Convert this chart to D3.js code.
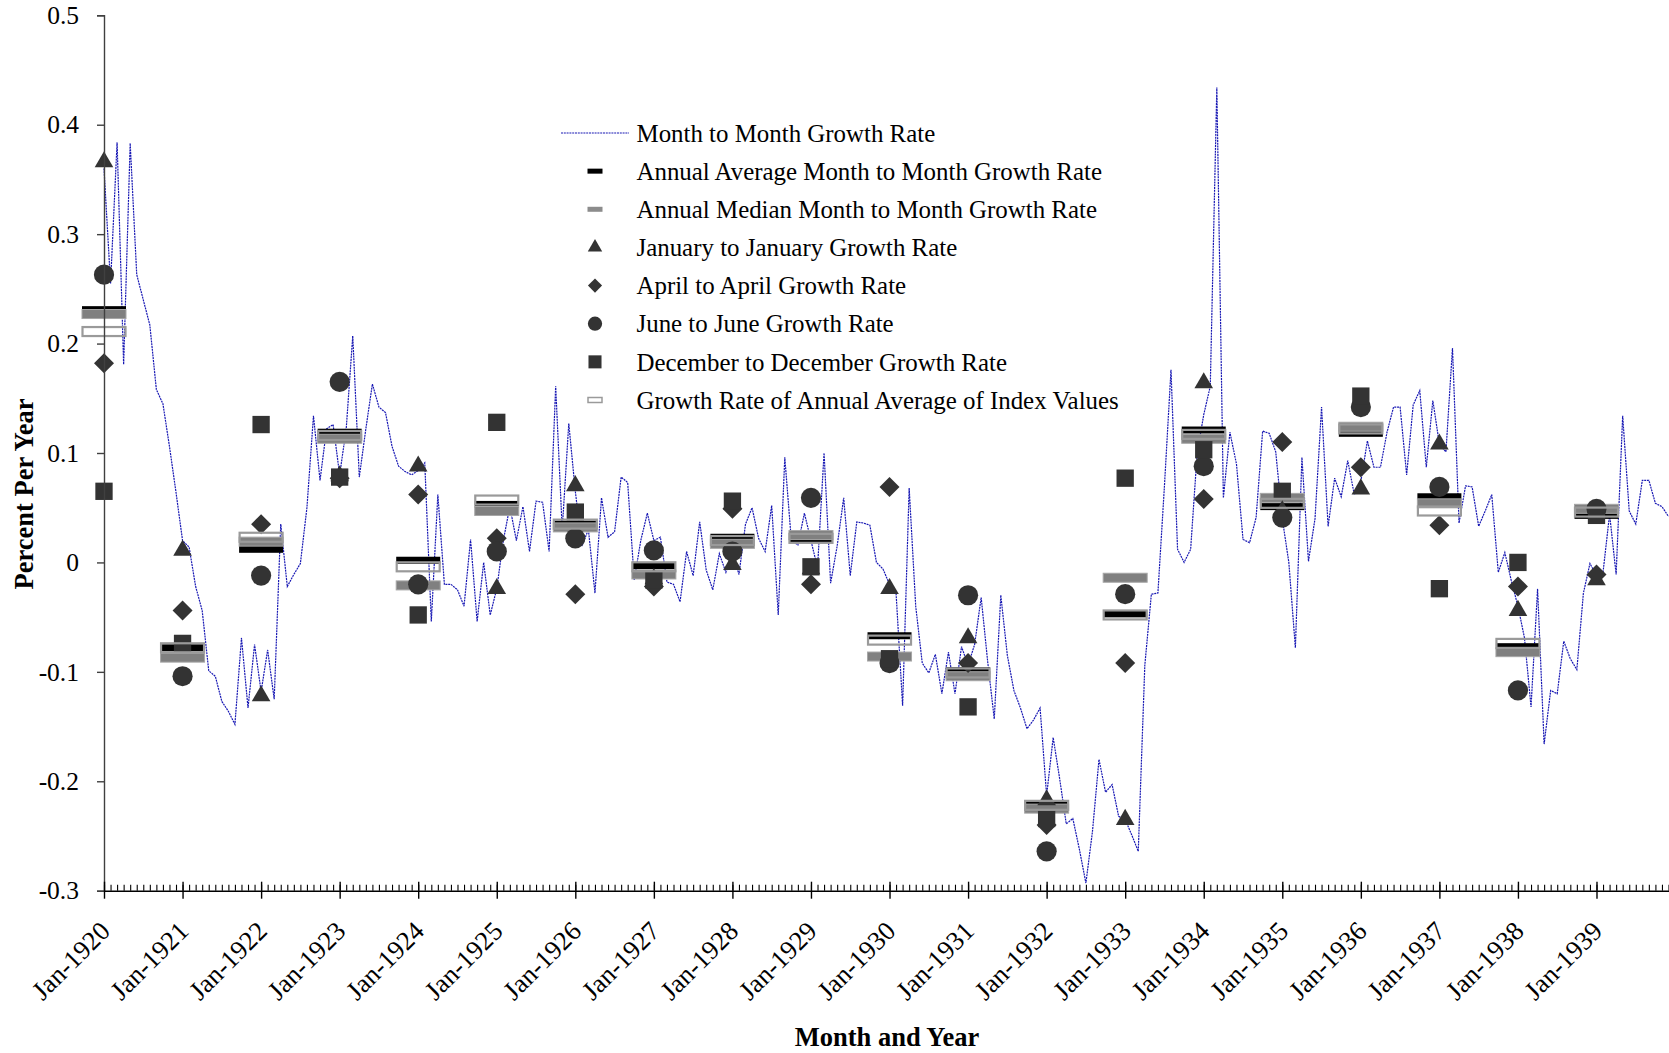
<!DOCTYPE html>
<html><head><meta charset="utf-8">
<script src="https://cdn.jsdelivr.net/npm/d3@7"></script>
<style>
html,body{margin:0;padding:0;background:#fff;}
svg{display:block;font-family:"Liberation Serif","Times New Roman",serif;}
</style>
</head><body>
<svg id="chart" width="1669" height="1053"></svg>
<script>
// ---------------- DATA ----------------
const yearLabels = ["Jan-1920","Jan-1921","Jan-1922","Jan-1923","Jan-1924","Jan-1925","Jan-1926","Jan-1927","Jan-1928","Jan-1929",
                    "Jan-1930","Jan-1931","Jan-1932","Jan-1933","Jan-1934","Jan-1935","Jan-1936","Jan-1937","Jan-1938","Jan-1939"];
const yTickValues = [0.5,0.4,0.3,0.2,0.1,0,-0.1,-0.2,-0.3];
const yTickLabels = ["0.5","0.4","0.3","0.2","0.1","0","-0.1","-0.2","-0.3"];

// Month to month growth rate, Jan-1920 .. Dec-1939 (12 per row)
const monthlyRate = [
  0.360, 0.255, 0.384, 0.181, 0.383, 0.263, 0.240, 0.217, 0.158, 0.145, 0.106, 0.064,
  0.020, 0.014,-0.022,-0.044,-0.099,-0.104,-0.127,-0.136,-0.148,-0.069,-0.133,-0.075,
 -0.118,-0.080,-0.125, 0.035,-0.022,-0.011,-0.001, 0.050, 0.134, 0.075, 0.122, 0.126,
  0.080, 0.122, 0.207, 0.078, 0.122, 0.163, 0.142, 0.137, 0.106, 0.088, 0.083, 0.080,
  0.084, 0.091,-0.054, 0.062,-0.020,-0.020,-0.025,-0.040, 0.021,-0.054, 0.000,-0.048,
 -0.024, 0.020, 0.051, 0.020, 0.051, 0.010, 0.056, 0.055, 0.010, 0.161, 0.030, 0.127,
  0.065, 0.015, 0.030,-0.028, 0.059, 0.023, 0.028, 0.078, 0.073,-0.016, 0.020, 0.045,
  0.020, 0.023,-0.018,-0.020,-0.036, 0.010,-0.012, 0.037,-0.007,-0.025, 0.008,-0.009,
  0.010,-0.011, 0.035, 0.050, 0.022, 0.010, 0.052,-0.048, 0.096, 0.020, 0.016, 0.045,
  0.020,-0.005, 0.100,-0.019, 0.015, 0.059,-0.012, 0.037, 0.036, 0.034, 0.000,-0.006,
 -0.020,-0.028,-0.131, 0.068,-0.040,-0.092,-0.101,-0.084,-0.120,-0.082,-0.120,-0.077,
 -0.094,-0.075,-0.032,-0.091,-0.143,-0.030,-0.085,-0.117,-0.133,-0.152,-0.144,-0.133,
 -0.213,-0.160,-0.198,-0.239,-0.234,-0.262,-0.293,-0.246,-0.180,-0.210,-0.203,-0.232,
 -0.235,-0.249,-0.264,-0.094,-0.029,-0.028, 0.070, 0.176, 0.012, 0.000, 0.012, 0.100,
  0.135, 0.161, 0.434, 0.059, 0.119, 0.090, 0.021, 0.018, 0.041, 0.120, 0.118, 0.101,
  0.040, 0.000,-0.078, 0.096, 0.001, 0.040, 0.142, 0.033, 0.077, 0.060, 0.093, 0.062,
  0.074, 0.111, 0.087, 0.087, 0.119, 0.142, 0.142, 0.080, 0.144, 0.157, 0.087, 0.148,
  0.108, 0.101, 0.196, 0.036, 0.070, 0.069, 0.033, 0.047, 0.062,-0.009, 0.009,-0.017,
 -0.040,-0.069,-0.132,-0.024,-0.166,-0.117,-0.120,-0.072,-0.088,-0.098,-0.028,-0.001,
 -0.012,-0.009, 0.044,-0.011, 0.134, 0.047, 0.035, 0.075, 0.075, 0.054, 0.051, 0.042
];

// Annual series, one value per year 1920..1939 (plotted at January)
const annualAverageRate = [0.231,-0.078,0.012,0.119,0.002,0.053,0.035,-0.003,0.023,0.021,-0.067,-0.099,-0.221,-0.047,0.121,0.051,0.118,0.060,-0.077,0.043];
const annualMedianRate  = [0.227,-0.087,0.019,0.113,-0.021,0.047,0.032,-0.011,0.017,0.025,-0.086,-0.104,-0.225,-0.014,0.113,0.059,0.124,0.054,-0.082,0.049];
const janToJanRate      = [0.366,0.011,-0.122,0.079,0.088,-0.024,0.070,-0.015,-0.002,-0.006,-0.024,-0.069,-0.217,-0.235,0.164,0.047,0.067,0.108,-0.044,-0.016];
const aprToAprRate      = [0.182,-0.044,0.035,0.077,0.062,0.022,-0.029,-0.022,0.049,-0.020,0.069,-0.092,-0.240,-0.092,0.058,0.110,0.087,0.034,-0.022,-0.011];
const junToJunRate      = [0.263,-0.104,-0.012,0.165,-0.020,0.010,0.022,0.011,0.010,0.059,-0.092,-0.030,-0.264,-0.029,0.088,0.041,0.142,0.069,-0.117,0.049];
const decToDecRate      = [0.065,-0.074,0.126,0.078,-0.048,0.128,0.046,-0.016,0.056,-0.004,-0.088,-0.132,-0.234,0.077,0.103,0.065,0.152,-0.024,0.000,0.043];
const annualIndexGrowth = [0.211,-0.078,0.023,0.116,-0.004,0.057,0.035,-0.004,0.020,0.022,-0.071,-0.101,-0.222,-0.048,0.117,0.054,0.122,0.047,-0.074,0.046];

const legendLabels = [
  "Month to Month Growth Rate",
  "Annual Average Month to Month Growth Rate",
  "Annual Median Month to Month Growth Rate",
  "January to January Growth Rate",
  "April to April Growth Rate",
  "June to June Growth Rate",
  "December to December Growth Rate",
  "Growth Rate of Annual Average of Index Values"
];

// ---------------- CHART ----------------
const svg = d3.select("#chart");
const x = d3.scaleLinear().domain([0, 239]).range([104, 1668.5]);
const y = d3.scaleLinear().domain([-0.3, 0.5]).range([890.7, 15.3]);
const markColor = "#333333";
const lineColor = "#1818b4";
const textColor = "#000";

// month to month line
svg.append("path")
  .datum(monthlyRate)
  .attr("fill", "none")
  .attr("stroke", lineColor)
  .attr("stroke-width", 1.2)
  .attr("stroke-dasharray", "2,0.8")
  .attr("d", d3.line().x((d, i) => x(i)).y(d => y(d)));

const yearIdx = d3.range(annualAverageRate.length).map(k => k * 12);

function bars(data, w, h, fill, stroke, sw) {
  svg.append("g").selectAll("rect").data(data).join("rect")
    .attr("x", (d, k) => x(yearIdx[k]) - w / 2)
    .attr("y", d => y(d) - h / 2)
    .attr("width", w).attr("height", h)
    .attr("fill", fill)
    .attr("stroke", stroke)
    .attr("stroke-width", sw);
}
function symbols(data, type, size, rot) {
  const gen = d3.symbol().type(type).size(size);
  svg.append("g").selectAll("path").data(data).join("path")
    .attr("d", gen())
    .attr("fill", markColor)
    .attr("transform", (d, k) => `translate(${x(yearIdx[k])},${y(d)})` + (rot ? ` rotate(${rot})` : ""));
}

bars(annualAverageRate, 44, 7, "#000", "none", 0);
bars(annualMedianRate, 44, 9, "#808080", "#a6a6a6", 1);
symbols(janToJanRate, d3.symbolTriangle, 150, 0);
symbols(aprToAprRate, d3.symbolSquare, 200, 45);
symbols(junToJunRate, d3.symbolCircle, 320, 0);
symbols(decToDecRate, d3.symbolSquare, 300, 0);
bars(annualIndexGrowth, 43, 9, "none", "#9a9a9a", 2.2);

// y axis
const yAxis = d3.axisLeft(y).tickValues(yTickValues)
  .tickFormat((d, i) => yTickLabels[i]).tickSize(7).tickPadding(18);
const gy = svg.append("g").attr("transform", "translate(104,0)").call(yAxis);
gy.select(".domain").attr("stroke", "#404040").attr("stroke-width", 1.4);
gy.selectAll(".tick line").attr("stroke", "#404040").attr("stroke-width", 1.4);
gy.selectAll(".tick text").attr("font-family", "Liberation Serif").attr("font-size", 25.5).attr("fill", textColor);

// x axis: minor monthly ticks (inside), major yearly ticks (crossing)
const gxMinor = svg.append("g").attr("transform", "translate(0,890.7)")
  .call(d3.axisBottom(x).tickValues(d3.range(240)).tickSize(-6).tickFormat("").tickSizeOuter(0));
gxMinor.select(".domain").attr("stroke", "#000").attr("stroke-width", 1.6);
gxMinor.selectAll(".tick line").attr("stroke", "#000").attr("stroke-width", 1.1);

const gxMajorUp = svg.append("g").attr("transform", "translate(0,890.7)")
  .call(d3.axisBottom(x).tickValues(yearIdx).tickSize(-9).tickFormat("").tickSizeOuter(0));
gxMajorUp.select(".domain").remove();
gxMajorUp.selectAll(".tick line").attr("stroke", "#000").attr("stroke-width", 1.4);

const gx = svg.append("g").attr("transform", "translate(0,890.7)")
  .call(d3.axisBottom(x).tickValues(yearIdx).tickSize(8).tickFormat((d, k) => yearLabels[k]).tickSizeOuter(0));
gx.select(".domain").remove();
gx.selectAll(".tick line").attr("stroke", "#000").attr("stroke-width", 1.4);
gx.selectAll(".tick text")
  .attr("font-family", "Liberation Serif").attr("font-size", 26.5).attr("fill", textColor)
  .attr("x", 0).attr("y", 0).attr("dy", null)
  .attr("text-anchor", "end")
  .attr("transform", "translate(7,42) rotate(-45)");

// axis titles
svg.append("text")
  .attr("transform", "translate(33,494) rotate(-90)")
  .attr("text-anchor", "middle")
  .attr("font-weight", "bold").attr("font-size", 26.5).attr("fill", textColor)
  .text("Percent Per Year");
svg.append("text")
  .attr("x", 887).attr("y", 1046)
  .attr("text-anchor", "middle")
  .attr("font-weight", "bold").attr("font-size", 26.5).attr("fill", textColor)
  .text("Month and Year");

// legend
const legendY = d3.scaleLinear().domain([0, 7]).range([133, 400]);
const lg = svg.append("g");
const lx = 595;
lg.append("line").attr("x1", 561).attr("x2", 629).attr("y1", legendY(0)).attr("y2", legendY(0))
  .attr("stroke", lineColor).attr("stroke-width", 1.2).attr("stroke-dasharray", "2,0.8");
lg.append("rect").attr("x", lx - 7.5).attr("y", legendY(1) - 2.5).attr("width", 15).attr("height", 5).attr("fill", "#000");
lg.append("rect").attr("x", lx - 7.5).attr("y", legendY(2) - 2.5).attr("width", 15).attr("height", 5).attr("fill", "#8c8c8c");
lg.append("path").attr("d", d3.symbol().type(d3.symbolTriangle).size(90)()).attr("fill", markColor)
  .attr("transform", `translate(${lx},${legendY(3)})`);
lg.append("path").attr("d", d3.symbol().type(d3.symbolSquare).size(100)()).attr("fill", markColor)
  .attr("transform", `translate(${lx},${legendY(4)}) rotate(45)`);
lg.append("path").attr("d", d3.symbol().type(d3.symbolCircle).size(160)()).attr("fill", markColor)
  .attr("transform", `translate(${lx},${legendY(5)})`);
lg.append("path").attr("d", d3.symbol().type(d3.symbolSquare).size(170)()).attr("fill", markColor)
  .attr("transform", `translate(${lx},${legendY(6)})`);
lg.append("rect").attr("x", lx - 7).attr("y", legendY(7) - 2.5).attr("width", 14).attr("height", 5)
  .attr("fill", "#fff").attr("stroke", "#9a9a9a").attr("stroke-width", 1.5);
lg.selectAll("text").data(legendLabels).join("text")
  .attr("x", 636.5).attr("y", (d, i) => legendY(i))
  .attr("dy", "0.35em")
  .attr("font-size", 24.9).attr("fill", textColor)
  .text(d => d);
</script>
</body></html>
